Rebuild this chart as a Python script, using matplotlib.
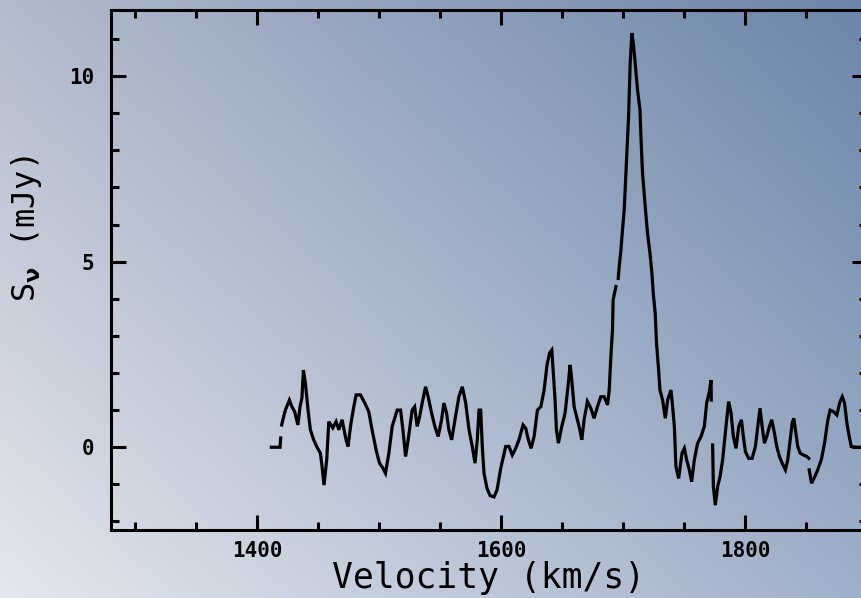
import numpy as np
import matplotlib
matplotlib.use('Agg')
import matplotlib.pyplot as plt

# spectrum pieces (velocity in km/s, flux density in mJy)
seg1_v = [1411.5, 1418.6, 1419.2]
seg1_s = [0.0, 0.0, 0.25]

seg2_v = [1420.0, 1420.8, 1423.0, 1426.3, 1428.4, 1430.6, 1433.3, 1435.0, 1436.6, 1437.8,
          1439.4, 1441.6, 1443.5, 1446.2, 1448.7, 1451.7, 1453.1, 1454.7, 1456.9, 1458.6,
          1461.9, 1464.6, 1466.8, 1469.5, 1472.8, 1474.4, 1476.6, 1479.1, 1481.0, 1484.6,
          1488.1, 1491.4, 1494.1, 1497.4, 1500.2, 1502.9, 1505.1, 1507.9, 1510.6, 1514.7,
          1517.5, 1519.4, 1521.6, 1523.7, 1527.0, 1529.0, 1531.1, 1533.1, 1535.2, 1538.0,
          1540.1, 1542.9, 1545.6, 1548.3, 1551.1, 1553.0, 1555.2, 1557.1, 1559.4, 1562.1,
          1565.3, 1568.1, 1570.9, 1573.6, 1576.3, 1578.5, 1580.4, 1581.8, 1583.2, 1584.5,
          1585.9, 1588.3, 1590.8, 1594.1, 1596.6, 1599.6, 1603.7, 1606.4, 1609.1, 1611.9,
          1614.6, 1617.9, 1620.1, 1622.3, 1624.5, 1627.0, 1629.7, 1632.5, 1635.2, 1637.6,
          1639.7, 1641.5, 1642.6, 1644.2, 1645.3, 1646.9, 1649.7, 1652.4, 1655.1, 1656.5,
          1657.9, 1659.8, 1662.5, 1664.5, 1666.1, 1668.0, 1670.7, 1673.5, 1676.2, 1678.9,
          1681.7, 1684.4, 1687.2, 1688.6, 1690.0, 1691.3, 1691.8, 1694.1]
seg2_s = [0.6, 0.72, 1.0, 1.27, 1.09, 0.96, 0.6, 1.09, 1.33, 2.08,
          1.73, 1.0, 0.47, 0.2, 0.02, -0.16, -0.52, -1.02, -0.34, 0.69,
          0.52, 0.69, 0.47, 0.74, 0.2, 0.02, 0.6, 1.09, 1.41, 1.41,
          1.19, 0.96, 0.47, -0.07, -0.43, -0.56, -0.7, -0.16, 0.56, 1.0,
          1.0, 0.47, -0.25, 0.2, 1.0, 1.09, 0.56, 0.82, 1.19, 1.63,
          1.36, 0.92, 0.56, 0.29, 0.74, 1.19, 0.92, 0.47, 0.2, 0.74,
          1.36, 1.63, 1.19, 0.47, 0.02, -0.43, 0.2, 1.0, 1.0, 0.02,
          -0.7, -1.1, -1.3, -1.34, -1.15, -0.57, 0.02, 0.02, -0.21, -0.03,
          0.2, 0.6, 0.51, 0.2, -0.03, 0.29, 1.0, 1.09, 1.54, 2.22,
          2.54, 2.62, 2.08, 1.27, 0.47, 0.11, 0.56, 0.92, 1.73, 2.22,
          1.81, 1.09, 0.74, 0.47, 0.2, 0.74, 1.23, 1.05, 0.78, 1.09,
          1.36, 1.36, 1.14, 1.54, 2.49, 3.16, 3.97, 4.33]

seg3_v = [1696.0, 1696.8, 1698.2, 1699.5, 1700.9, 1702.3, 1704.4, 1705.8, 1707.2, 1708.5,
          1709.9, 1711.8, 1713.8, 1714.6, 1715.9, 1718.1, 1720.0, 1722.0, 1723.6, 1724.7,
          1726.3, 1727.4, 1729.1, 1730.2, 1732.4, 1734.6, 1736.5, 1739.2, 1740.6, 1742.0,
          1743.3, 1745.5, 1748.3, 1750.2, 1752.1, 1754.3, 1756.2, 1758.4, 1761.1, 1763.9,
          1766.6, 1768.5, 1770.7, 1772.1, 1772.3]
seg3_s = [4.55, 4.87, 5.32, 5.86, 6.4, 7.39, 8.87, 10.35, 11.16, 10.84,
          10.35, 9.63, 9.09, 8.37, 7.39, 6.49, 5.77, 5.23, 4.69, 4.15,
          3.61, 2.8, 2.08, 1.54, 1.27, 0.78, 1.27, 1.54, 1.09, 0.56,
          -0.52, -0.84, -0.16, -0.03, -0.34, -0.61, -0.93, -0.34, 0.11, 0.29,
          0.56, 1.19, 1.5, 1.81, 1.27]

seg4_v = [1773.4, 1774.0, 1775.6, 1777.5, 1779.5, 1781.6, 1783.8, 1786.5, 1788.5, 1790.4,
          1792.6, 1794.8, 1797.0, 1798.6, 1800.3, 1803.0, 1805.8, 1808.5, 1810.4, 1812.3,
          1814.0, 1815.9, 1817.8, 1820.0, 1821.9, 1824.1, 1826.0, 1828.2, 1830.4, 1833.1,
          1835.0, 1837.0, 1838.6, 1840.0, 1841.3, 1843.2, 1845.2, 1847.9, 1850.6, 1852.3]
seg4_s = [0.06, -1.06, -1.56, -1.06, -0.79, -0.34, 0.38, 1.23, 0.92, 0.29,
          -0.03, 0.56, 0.74, 0.29, -0.12, -0.3, -0.3, 0.02, 0.56, 1.05,
          0.56, 0.11, 0.29, 0.56, 0.74, 0.38, 0.02, -0.25, -0.43, -0.61,
          -0.34, 0.2, 0.65, 0.78, 0.47, 0.02, -0.16, -0.21, -0.25, -0.3]

seg5_v = [1852.6, 1854.5, 1857.2, 1859.6, 1862.5, 1865.2, 1867.9, 1869.8, 1872.5, 1875.3,
          1877.5, 1879.7, 1881.6, 1883.5, 1885.7, 1887.1, 1891.2, 1899.0]
seg5_s = [-0.61, -0.97, -0.79, -0.61, -0.34, 0.11, 0.74, 1.0, 0.96, 0.87,
          1.19, 1.36, 1.19, 0.65, 0.24, 0.02, 0.0, 0.0]

segments = [(seg1_v, seg1_s), (seg2_v, seg2_s), (seg3_v, seg3_s),
            (seg4_v, seg4_s), (seg5_v, seg5_s)]

plt.rcParams['font.family'] = ['DejaVu Sans Mono', 'DejaVu Sans']
plt.rcParams['font.weight'] = 'bold'
plt.rcParams['mathtext.default'] = 'bf'

fig = plt.figure(figsize=(8.61, 5.98), dpi=100)

# diagonal gradient backdrop: light lower-left, blue upper-right
bg = fig.add_axes([0, 0, 1, 1], zorder=0)
tl = np.array([178, 187, 204]) / 255
tr = np.array([108, 133, 170]) / 255
bl = np.array([228, 231, 237]) / 255
br = np.array([160, 176, 202]) / 255
gy, gx = np.mgrid[0:1:300j, 0:1:430j]
gy = gy[..., None]
gx = gx[..., None]
img = (1 - gy) * ((1 - gx) * tl + gx * tr) + gy * ((1 - gx) * bl + gx * br)
bg.imshow(img, aspect='auto', extent=[0, 1, 0, 1], interpolation='bilinear')
bg.axis('off')

ax = fig.add_axes([111 / 861, 68 / 598, 756 / 861, 520 / 598], zorder=1)
ax.set_facecolor('none')

for v, s in segments:
    ax.plot(v, s, color='black', lw=2.3, solid_joinstyle='miter')

ax.set_xlim(1280, 1900)
ax.set_ylim(-2.23, 11.78)
ax.set_xticks([1400, 1600, 1800])
ax.set_xticks(np.arange(1300, 1900, 50), minor=True)
ax.set_yticks([0, 5, 10])
ax.set_yticks(np.arange(-2, 12, 1), minor=True)

for sp in ax.spines.values():
    sp.set_linewidth(2.2)
ax.tick_params(which='both', direction='in', top=True, right=True, width=2.2)
ax.tick_params(which='major', length=11)
ax.tick_params(which='minor', length=6)
ax.tick_params(axis='x', which='major', labelsize=15, pad=8)
ax.tick_params(axis='y', which='major', labelsize=15, pad=12)

ax.set_xlabel('Velocity (km/s)', fontsize=25, labelpad=0)
ax.set_ylabel(r'S$_\nu$ (mJy)', fontsize=23)
ax.yaxis.set_label_coords(-0.088, 0.58)

fig.savefig('out.png', dpi=100)
